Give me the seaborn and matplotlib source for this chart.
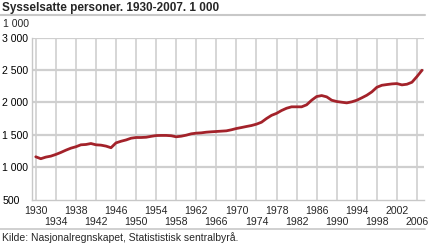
import matplotlib
matplotlib.use("Agg")
import matplotlib.pyplot as plt
import seaborn as sns
import pandas as pd
import numpy as np

years = list(range(1930, 2008))
employed = [
    1160, 1130, 1155, 1170, 1196, 1227, 1262, 1293, 1315, 1345,
    1350, 1365, 1345, 1340, 1325, 1300, 1375, 1400, 1420, 1447,
    1458, 1458, 1462, 1476, 1488, 1490, 1490, 1485, 1469, 1478,
    1494, 1515, 1525, 1530, 1540, 1546, 1551, 1556, 1561, 1577,
    1597, 1612, 1628, 1643, 1664, 1694, 1751, 1800, 1831, 1875,
    1910, 1932, 1932, 1932, 1963, 2034, 2091, 2106, 2086, 2034,
    2014, 2003, 1993, 2009, 2034, 2071, 2111, 2163, 2234, 2265,
    2276, 2286, 2291, 2271, 2281, 2312, 2400, 2497,
]
y_ticks = [500, 1000, 1500, 2000, 2500, 3000]
y_labels = ["500", "1 000", "1 500", "2 000", "2 500", "3 000"]
x_row1 = list(range(1930, 2007, 8))
x_row2 = list(range(1934, 2007, 8))
title = "Sysselsatte personer. 1930-2007. 1 000"
unit = "1 000"
source = "Kilde: Nasjonalregnskapet, Statististisk sentralbyrå."

df = pd.DataFrame({"year": years, "value": employed})

sns.set_style("white")
plt.rcParams["font.family"] = ["Liberation Sans", "DejaVu Sans"]

W, H = 429, 245
fig = plt.figure(figsize=(W / 100, H / 100), dpi=100)
ax = fig.add_axes([32 / W, 1 - 199.5 / H, (424 - 32) / W, (199.5 - 37.7) / H])

grid_c = "#cfcfcf"
for v in y_ticks[1:]:
    ax.axhline(v, color=grid_c, lw=1.6, zorder=1)
for x in sorted(x_row1 + x_row2):
    ax.axvline(x, color=grid_c, lw=1.2, zorder=1)

sns.lineplot(data=df, x="year", y="value", ax=ax, color="#a3222a", lw=2.0, zorder=3)

ax.set_xlim(1929.25, 2007.4)
ax.set_ylim(500, 3000)
ax.set_xlabel("")
ax.set_ylabel("")

ax.set_yticks(y_ticks)
ax.set_yticklabels(y_labels, fontsize=7.6, color="#000000", ha="left")
ax.tick_params(axis="y", length=0, pad=21.3)

ax.set_xticks(x_row1)
ax.set_xticklabels([str(x) for x in x_row1], fontsize=7.6)
ax.set_xticks(years, minor=True)
ax.tick_params(axis="x", which="major", length=0, pad=4.5)
ax.tick_params(axis="x", which="minor", direction="in", length=3.5, width=0.8, color="#c8c8c8")

sec = ax.secondary_xaxis("bottom")
sec.set_xticks(x_row2)
sec.set_xticklabels([str(x) for x in x_row2], fontsize=7.6)
sec.tick_params(axis="x", length=0, pad=12.5)
sec.spines["bottom"].set_visible(False)

for s in ["top", "right"]:
    ax.spines[s].set_visible(False)
for s in ["left", "bottom"]:
    ax.spines[s].set_color("#c8c8c8")
    ax.spines[s].set_linewidth(1.0)

fig.text(2 / W, 1 - 8 / H, title, fontsize=8.5, fontweight="bold", va="center", ha="left")
fig.add_artist(plt.Line2D([0, 425 / W], [1 - 15 / H, 1 - 15 / H], color="#c8c8c8", lw=1.5))
fig.text(3 / W, 1 - 24 / H, unit, fontsize=7.6, va="center", ha="left")
fig.add_artist(plt.Line2D([0, 425 / W], [1 - 229 / H, 1 - 229 / H], color="#c8c8c8", lw=1.2))
fig.text(2 / W, 1 - 237.5 / H, source, fontsize=7.5, va="center", ha="left")

fig.savefig("out.png", dpi=100)
